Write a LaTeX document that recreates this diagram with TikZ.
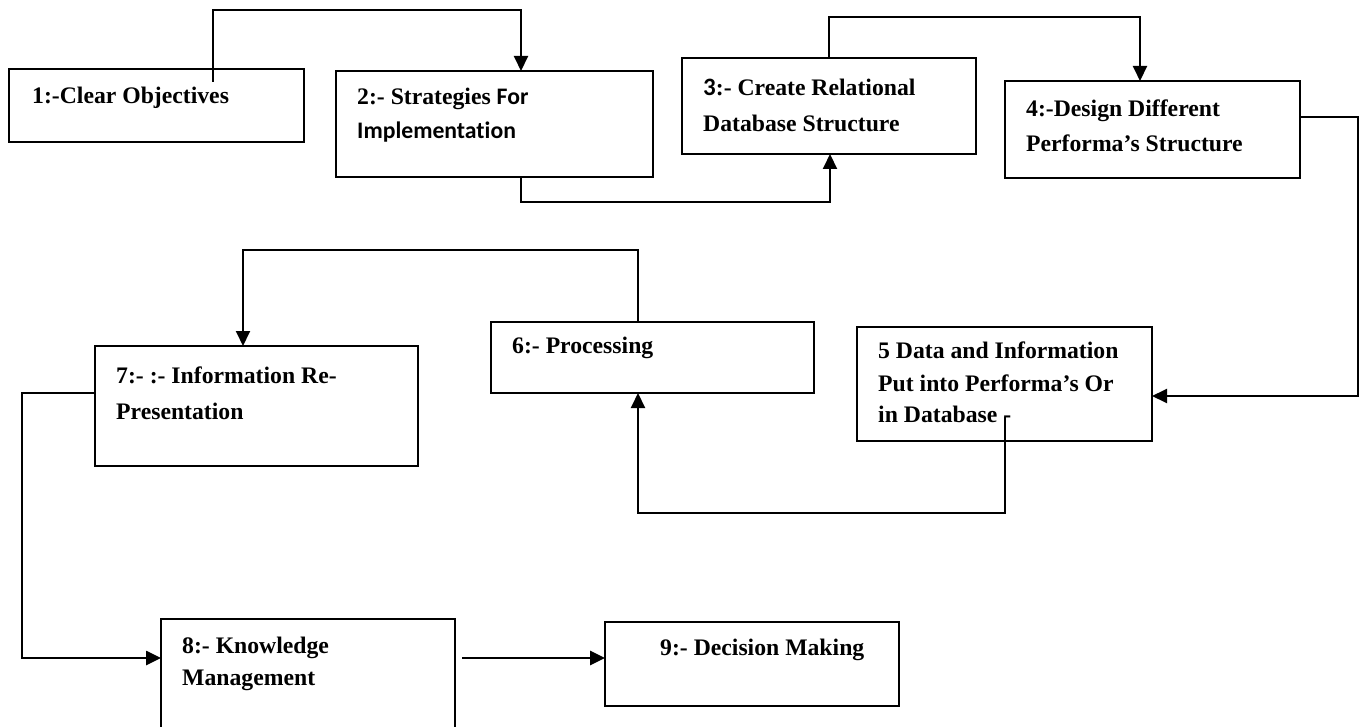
\documentclass[tikz,border=0pt]{standalone}
\usepackage{fontspec}
\setmainfont{Liberation Serif}
\newfontfamily\calfont[Ligatures=NoCommon]{Carlito}
\usetikzlibrary{arrows.meta}
\begin{document}
\begin{tikzpicture}[x=1pt,y=-1pt,
  box/.style={draw, line width=2.2pt, inner sep=0pt, outer sep=0pt, anchor=north west},
  lbl/.style={anchor=base west, inner sep=0pt, font=\fontsize{23.7}{28}\selectfont\bfseries},
  arr/.style={line width=2pt, -{Triangle[length=15pt,width=14pt]}},
  arrb/.style={line width=2.6pt, -{Triangle[length=15pt,width=14pt]}},
]
\useasboundingbox (0,0) rectangle (1362,727);
\fill[white] (0,0) rectangle (1362,727);

% boxes
\node[box, minimum width=295pt, minimum height=73pt]  (b1) at (9,69) {};
\node[box, minimum width=317pt, minimum height=106pt] (b2) at (336,71) {};
\node[box, minimum width=294pt, minimum height=96pt]  (b3) at (682,58) {};
\node[box, minimum width=295pt, minimum height=97pt]  (b4) at (1005,81) {};
\node[box, minimum width=295pt, minimum height=114pt] (b5) at (857,327) {};
\node[box, minimum width=323pt, minimum height=71pt]  (b6) at (491,322) {};
\node[box, minimum width=323pt, minimum height=120pt] (b7) at (95,346) {};
\node[box, minimum width=294pt, minimum height=130pt] (b8) at (161,619) {};
\node[box, minimum width=294pt, minimum height=84pt]  (b9) at (605,622) {};

% texts
\node[lbl] (t11) at (32,104) {1:-Clear Objectives};
\node[lbl] (t21) at (357,105) {2:- Strategies {\calfont For}};
\node[lbl] (t22) at (357,139) {\calfont Implementation};
\node[lbl] (t31) at (703,96) {{\calfont\fontsize{25}{30}\selectfont 3}:- Create Relational};
\node[lbl] (t32) at (703,132) {Database Structure};
\node[lbl] (t41) at (1026,117) {4:-Design Different};
\node[lbl] (t42) at (1026,152) {Performa’s Structure};
\node[lbl] (t51) at (878,358) {5 Data and Information};
\node[lbl] (t52) at (878,391) {Put into Performa’s Or};
\node[lbl] (t53) at (878,422) {in Database -};
\node[lbl] (t61) at (512,353) {6:- Processing};
\node[lbl] (t71) at (116,383) {7:- :- Information Re-};
\node[lbl] (t72) at (116,419) {Presentation};
\node[lbl] (t81) at (182,653) {8:- Knowledge};
\node[lbl] (t82) at (182,685) {Management};
\node[lbl] (t91) at (660,655) {9:- Decision Making};

% connector points
\coordinate (s1) at (213,82);
\coordinate (k1) at (213,10);
\coordinate (k2) at (521,10);
\coordinate (k3) at (521,202);
\coordinate (k4) at (830,202);
\coordinate (k5) at (829,17);
\coordinate (k6) at (1140,17);
\coordinate (k7) at (1358,117);
\coordinate (k8) at (1358,396);
\coordinate (s5) at (1005,417);
\coordinate (k9) at (1005,513);
\coordinate (k10) at (638,513);
\coordinate (k11) at (638,250);
\coordinate (k12) at (243,250);
\coordinate (k13) at (22,393);
\coordinate (k14) at (22,658);
\coordinate (k15) at (462,658);

% connectors
\draw[arr] (s1) -- (k1) -- (k2) -- (k2 |- b2.north);
\draw[arr] (k3 |- b2.south) -- (k3) -- (k4) -- (k4 |- b3.south);
\draw[arr] (k5 |- b3.north) -- (k5) -- (k6) -- (k6 |- b4.north);
\draw[arr] (b4.east |- k7) -- (k7) -- (k8) -- (k8 -| b5.east);
\draw[arr] (s5) -- (k9) -- (k10) -- (k10 |- b6.south);
\draw[arr] (k11 |- b6.north) -- (k11) -- (k12) -- (k12 |- b7.north);
\draw[arrb] (b7.west |- k13) -- (k13) -- (k14) -- (k14 -| b8.west);
\draw[arrb] (k15) -- (k15 -| b9.west);
\end{tikzpicture}
\end{document}
